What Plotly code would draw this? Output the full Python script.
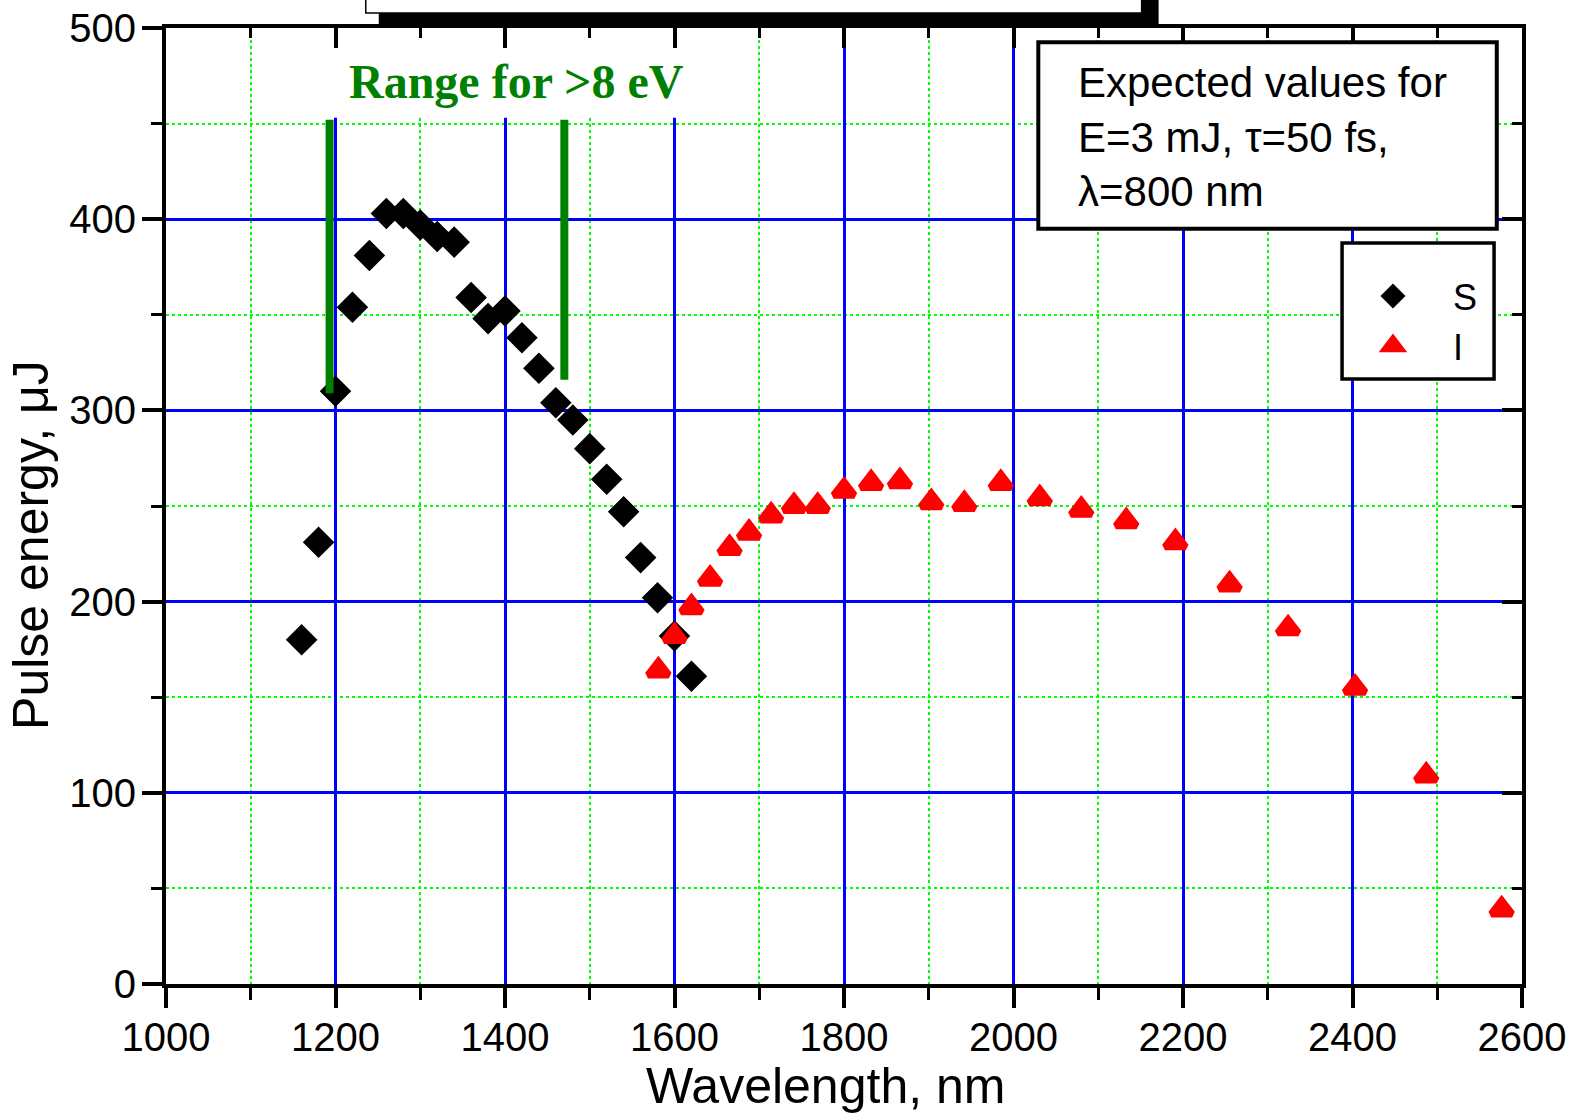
import plotly.graph_objects as go

# ---- data ----
s_wavelength = [1160, 1180, 1200, 1220, 1240, 1260, 1280, 1300, 1320, 1340, 1360, 1380,
                1400, 1420, 1440, 1460, 1480, 1500, 1520, 1540, 1560, 1580, 1600, 1620]
s_energy = [180, 231, 310, 354, 381, 403, 403, 397, 391, 388, 359, 348,
            352, 338, 322, 304, 295, 280, 264, 247, 223, 202, 182, 161]

i_wavelength = [1581, 1600, 1620, 1642, 1665, 1688, 1714, 1741, 1769, 1800, 1832, 1866,
                1903, 1942, 1985, 2031, 2080, 2133, 2191, 2255, 2324, 2403, 2487, 2576]
i_energy = [164, 182, 197, 212, 228, 236, 245, 250, 250, 258, 262, 263,
            252, 251, 262, 254, 248, 242, 231, 209, 186, 155, 109, 39]

range_x = [1193, 1470]
range_top = [452, 452]
range_bottom = [309, 316]
range_label = "Range for >8 eV"

x_title = "Wavelength, nm"
y_title = "Pulse energy, \u03bcJ"
info_lines = ["Expected values for", "E=3 mJ, \u03c4=50 fs,", "\u03bb=800 nm"]

SANS = "Liberation Sans, Arial, sans-serif"
SERIF = "Liberation Serif, Times New Roman, serif"
BLUE = "#0000FF"
LIME = "#00FF00"
GREEN = "#008000"
NB = "\u00a0"

fig = go.Figure()

fig.add_trace(go.Scatter(
    x=s_wavelength, y=s_energy, mode="markers", name="S",
    marker=dict(symbol="diamond", size=21, color="black",
                line=dict(color="black", width=3)),
))

rx, ry = [], []
for xv, lo, hi in zip(range_x, range_bottom, range_top):
    rx += [xv, xv, None]
    ry += [lo, hi, None]
fig.add_trace(go.Scatter(
    x=rx, y=ry, mode="lines", showlegend=False, hoverinfo="skip",
    line=dict(color=GREEN, width=8),
))

fig.add_trace(go.Scatter(
    x=i_wavelength, y=i_energy, mode="markers", name="I",
    marker=dict(symbol="triangle-up", size=18, color="red",
                line=dict(color="red", width=7)),
))

# helper trace for the mirrored (top/right) tick axes
fig.add_trace(go.Scatter(x=[None], y=[None], xaxis="x2", yaxis="y2",
                         showlegend=False, hoverinfo="skip"))

tickfont = dict(family=SANS, size=40, color="black")

fig.update_layout(
    width=1573, height=1120,
    margin=dict(l=166, r=51, t=28, b=136, autoexpand=False),
    paper_bgcolor="white", plot_bgcolor="white",
    font=dict(family=SANS, color="black"),
    xaxis=dict(
        range=[1000, 2600], tick0=1000, dtick=200, automargin=False,
        showgrid=True, gridcolor=BLUE, gridwidth=2.5, zeroline=False,
        showline=True, linecolor="black", linewidth=4, mirror=True,
        ticks="outside", ticklen=20, tickwidth=4, tickcolor="black",
        tickfont=tickfont, ticklabelstandoff=-5,
        minor=dict(tick0=1000, dtick=100, ticks="outside", ticklen=12, tickwidth=3,
                   tickcolor="black", showgrid=True, gridcolor=LIME, gridwidth=2,
                   griddash="dot"),
    ),
    yaxis=dict(
        range=[0, 500], tick0=0, dtick=100, automargin=False,
        showgrid=True, gridcolor=BLUE, gridwidth=2.5, zeroline=False,
        showline=True, linecolor="black", linewidth=4, mirror=True,
        ticks="outside", ticklen=20, tickwidth=4, tickcolor="black",
        tickfont=tickfont, ticklabelstandoff=-2,
        minor=dict(tick0=0, dtick=50, ticks="outside", ticklen=11, tickwidth=3,
                   tickcolor="black", showgrid=True, gridcolor=LIME, gridwidth=2,
                   griddash="dot"),
    ),
    xaxis2=dict(
        overlaying="x", side="top", anchor="y2", range=[1000, 2600], tick0=1000, dtick=200,
        automargin=False,
        showgrid=False, zeroline=False, showline=False, showticklabels=False,
        ticks="inside", ticklen=20, tickwidth=4, tickcolor="black",
        minor=dict(tick0=1000, dtick=100, ticks="inside", ticklen=10, tickwidth=3,
                   tickcolor="black", showgrid=False),
    ),
    yaxis2=dict(
        overlaying="y", side="right", anchor="x2", range=[0, 500], tick0=0, dtick=100,
        automargin=False,
        showgrid=False, zeroline=False, showline=False, showticklabels=False,
        ticks="inside", ticklen=20, tickwidth=4, tickcolor="black",
        minor=dict(tick0=0, dtick=50, ticks="inside", ticklen=10, tickwidth=3,
                   tickcolor="black", showgrid=False),
    ),
    legend=dict(
        x=0.8606, y=0.7755, xanchor="left", yanchor="top",
        bgcolor="rgba(0,0,0,0)", borderwidth=0,
        font=dict(family=SANS, size=36, color="black"),
        itemwidth=110, tracegroupgap=0,
        title=dict(text=NB, font=dict(size=18)),
    ),
    showlegend=True,
)

shapes = [
    # white background behind the green label
    dict(type="rect", xref="x", yref="y", x0=1147, x1=1650, y0=453, y1=494,
         fillcolor="white", line=dict(width=0), layer="between"),
    # info box
    dict(type="rect", xref="paper", yref="paper", x0=0.6433, x1=0.9814, y0=0.7900, y1=0.9852,
         fillcolor="white", line=dict(color="black", width=4), layer="above"),
    # legend frame
    dict(type="rect", xref="paper", yref="paper", x0=0.8673, x1=0.9794, y0=0.6328, y1=0.7751,
         fillcolor="white", line=dict(color="black", width=3.5), layer="above"),
    # cut-off box at the top with its shadow
    dict(type="rect", xref="paper", yref="paper", x0=0.1569, x1=0.7320, y0=1.0, y1=1.06,
         fillcolor="black", line=dict(width=0), layer="above"),
    dict(type="rect", xref="paper", yref="paper", x0=0.1473, x1=0.7195, y0=1.0157, y1=1.06,
         fillcolor="white", line=dict(color="black", width=1.5), layer="above"),
]
fig.update_layout(shapes=shapes)

fig.add_annotation(
    x=1413, y=472, xref="x", yref="y", text="<b>" + range_label + "</b>",
    showarrow=False, font=dict(family=SERIF, size=48, color=GREEN),
)
fig.add_annotation(
    x=0.6714, y=0.8856, xref="paper", yref="paper", xanchor="left", yanchor="middle",
    align="left", text="<br>".join(info_lines), showarrow=False,
    font=dict(family=SANS, size=42, color="black"),
)
# axis titles
fig.add_annotation(
    x=0.4864, y=-0.1067, xref="paper", yref="paper", xanchor="center", yanchor="middle",
    text=x_title, showarrow=False, font=dict(family=SANS, size=50, color="black"),
)
fig.add_annotation(
    x=-0.0996, y=0.4592, xref="paper", yref="paper", xanchor="center", yanchor="middle",
    text=y_title, textangle=-90, showarrow=False,
    font=dict(family=SANS, size=50, color="black"),
)

fig.write_html("out.html")
